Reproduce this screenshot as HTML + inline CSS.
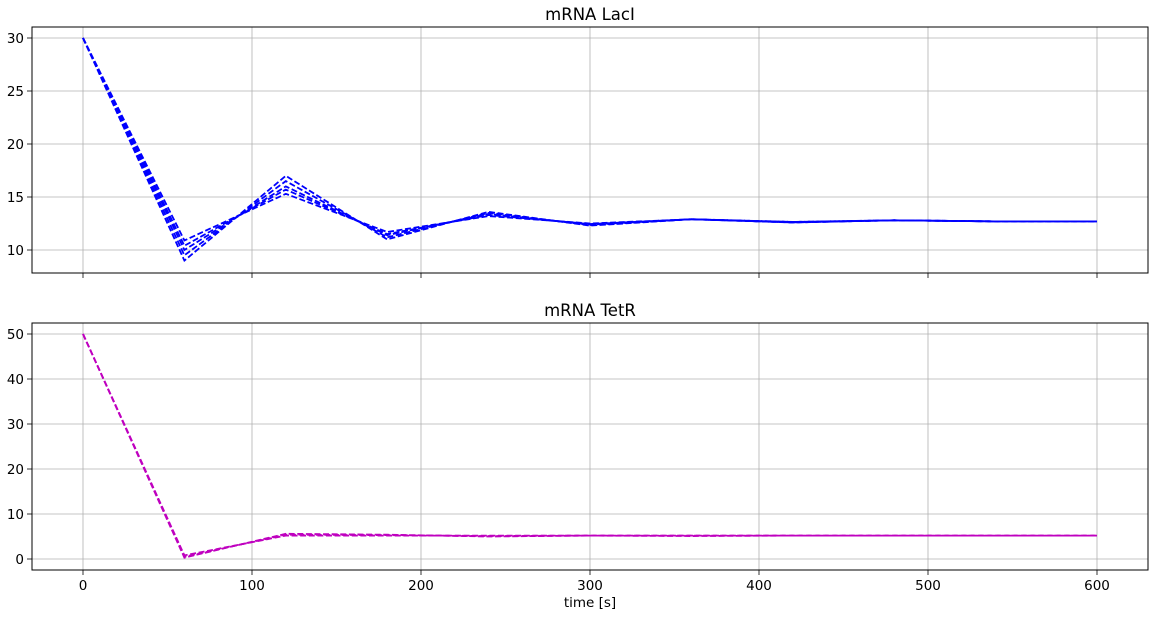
<!DOCTYPE html>
<html><head><meta charset="utf-8"><style>
body{margin:0;background:#fff}
svg text{font-family:"DejaVu Sans","Liberation Sans",sans-serif;fill:#000}
</style></head><body>
<svg id="c" width="1155" height="616" xmlns="http://www.w3.org/2000/svg"></svg>
<script>
const times=[0,60,120,180,240,300,360,420,480,540,600];
const laciSeries=[
 [30,9.0,17.0,11.0,13.6,12.3,12.9,12.6,12.8,12.7,12.7],
 [30,9.5,16.5,11.2,13.5,12.35,12.9,12.6,12.8,12.7,12.7],
 [30,10.0,16.0,11.4,13.4,12.4,12.9,12.6,12.8,12.7,12.7],
 [30,10.4,15.7,11.5,13.3,12.45,12.9,12.65,12.8,12.7,12.7],
 [30,10.9,15.3,11.7,13.2,12.5,12.9,12.65,12.8,12.7,12.7]
];
const tetrSeries=[
 [50,0.3,5.6,5.4,5.0,5.2,5.1,5.2,5.2,5.2,5.2],
 [50,0.5,5.4,5.3,5.1,5.2,5.2,5.2,5.2,5.2,5.2],
 [50,0.8,5.2,5.2,5.2,5.2,5.2,5.2,5.2,5.2,5.2]
];
const xTicks=[0,100,200,300,400,500,600];
const laciTicks=[10,15,20,25,30];
const tetrTicks=[0,10,20,30,40,50];

const NS="http://www.w3.org/2000/svg";
const svg=document.getElementById('c');
function el(t,a,p){const e=document.createElementNS(NS,t);for(const k in a)e.setAttribute(k,a[k]);(p||svg).appendChild(e);return e;}
const L=32,R=1148;
const xs=v=>83+(v/600)*(1097-83);
function panel(top,bot,y0v,y0p,y1v,y1p,ticks,series,color,title,name,showX){
 const ys=v=>y0p+(v-y0v)*(y1p-y0p)/(y1v-y0v);
 const g=el('g',{});
 
 
 xTicks.forEach(t=>{
  const l=el('line',{x1:xs(t),x2:xs(t),y1:top,y2:bot,stroke:'#b0b0b0','stroke-width':0.8},g);
  
  el('line',{x1:xs(t),x2:xs(t),y1:bot,y2:bot+5,stroke:'#000','stroke-width':0.8},g);
  if(showX){const tx=el('text',{x:xs(t),y:bot+20,'text-anchor':'middle','font-size':13.5},g);tx.textContent=t;
   }
 });
 ticks.forEach(t=>{
  const l=el('line',{x1:L,x2:R,y1:ys(t),y2:ys(t),stroke:'#b0b0b0','stroke-width':0.8},g);
  
  el('line',{x1:L-5,x2:L,y1:ys(t),y2:ys(t),stroke:'#000','stroke-width':0.8},g);
  const tx=el('text',{x:L-8,y:ys(t)+5,'text-anchor':'end','font-size':13.5},g);tx.textContent=t;
  
 });
 series.forEach((s,i)=>{
  const p=el('polyline',{points:s.map((v,j)=>xs(times[j])+','+ys(v)).join(' '),fill:'none',stroke:color,'stroke-width':1.8,'stroke-dasharray':'6,2.6'},g);
  
  
 });
 const r=el('rect',{x:L,y:top,width:R-L,height:bot-top,fill:'none',stroke:'#000','stroke-width':1},g);
 
 const ti=el('text',{x:(L+R)/2,y:top-7,'text-anchor':'middle','font-size':16.5},g);ti.textContent=title;
 
}
panel(27,273,30,38,10,250,laciTicks,laciSeries,'#0000ff','mRNA LacI','laci',false);
panel(323,570,50,334,0,559,tetrTicks,tetrSeries,'#bf00bf','mRNA TetR','tetr',true);
const xl=el('text',{x:(L+R)/2,y:607,'text-anchor':'middle','font-size':13.5});
xl.textContent='time [s]';


</script>
</body></html>
